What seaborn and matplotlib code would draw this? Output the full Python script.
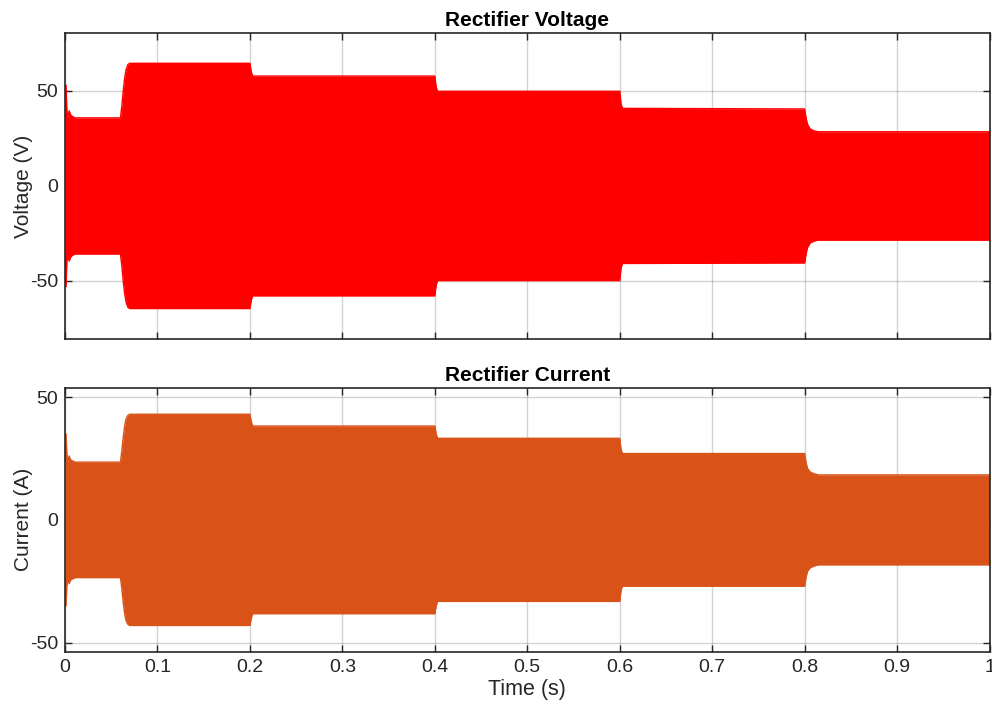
import matplotlib
matplotlib.use('Agg')  # Non-interactive backend
import matplotlib.pyplot as plt
import seaborn as sns
import numpy as np

# Envelope breakpoints (time in s, peak amplitude)
v_time = [0.0, 0.0012, 0.002, 0.003, 0.0045, 0.006, 0.008, 0.011, 0.06, 0.0615, 0.063,
          0.0645, 0.066, 0.068, 0.07, 0.2, 0.2015, 0.203, 0.4, 0.4015, 0.403, 0.6, 0.6015,
          0.603, 0.8, 0.8015, 0.803, 0.806, 0.81, 0.815, 1.0]
v_upper = [36.0, 53.0, 40.0, 36.0, 39.5, 37.5, 36.5, 35.8, 35.8, 42.0, 50.0,
           56.5, 61.0, 63.8, 64.5, 64.5, 60.0, 57.8, 57.8, 52.0, 49.8, 49.8, 43.0,
           40.8, 40.5, 36.0, 32.5, 30.0, 29.0, 28.5, 28.5]
v_lower = [-36.0, -53.0, -40.0, -36.0, -39.5, -37.5, -36.5, -35.8, -35.8, -42.0, -50.0,
           -56.5, -61.0, -63.8, -64.5, -64.5, -60.0, -57.8, -57.8, -52.0, -49.8, -49.8, -43.0,
           -40.8, -40.5, -36.0, -32.5, -30.0, -29.0, -28.5, -28.5]

i_time = v_time
i_upper = [23.5, 35.0, 27.0, 23.5, 26.0, 24.5, 24.0, 23.5, 23.5, 28.0, 33.5,
           38.0, 41.0, 42.5, 43.0, 43.0, 40.0, 38.2, 38.2, 35.0, 33.2, 33.2, 28.5,
           27.0, 27.0, 23.5, 21.0, 19.5, 18.8, 18.3, 18.3]
i_lower = [-23.5, -35.0, -27.0, -23.5, -26.0, -24.5, -24.0, -23.5, -23.5, -28.0, -33.5,
           -38.0, -41.0, -42.5, -43.0, -43.0, -40.0, -38.2, -38.2, -35.0, -33.2, -33.2, -28.5,
           -27.0, -27.0, -23.5, -21.0, -19.5, -18.8, -18.3, -18.3]

x_ticks = [0, 0.1, 0.2, 0.3, 0.4, 0.5, 0.6, 0.7, 0.8, 0.9, 1]
x_ticklabels = ['0', '0.1', '0.2', '0.3', '0.4', '0.5', '0.6', '0.7', '0.8', '0.9', '1']

sns.set_theme(style="whitegrid")
plt.rcParams['font.family'] = ['Liberation Sans', 'DejaVu Sans']
plt.rcParams['axes.unicode_minus'] = False

fig = plt.figure(figsize=(9.92, 7.11), dpi=100)
ax1 = fig.add_axes([0.0655, 0.523, 0.932, 0.431])
ax2 = fig.add_axes([0.0655, 0.083, 0.932, 0.3717])

panels = [
    (ax1, v_time, v_upper, v_lower, '#FF0000', 'Rectifier Voltage', 'Voltage (V)', 80.6, [-50, 0, 50]),
    (ax2, i_time, i_upper, i_lower, '#D95319', 'Rectifier Current', 'Current (A)', 53.8, [-50, 0, 50]),
]

for ax, t, up, lo, color, title, ylabel, ylim, yticks in panels:
    ax.fill_between(t, lo, up, color=color, linewidth=0, zorder=2)
    sns.lineplot(x=t, y=up, ax=ax, color=color, linewidth=1, zorder=2)
    sns.lineplot(x=t, y=lo, ax=ax, color=color, linewidth=1, zorder=2)
    ax.set_xlim(0, 1)
    ax.set_ylim(-ylim, ylim)
    ax.set_xticks(x_ticks)
    ax.set_yticks(yticks)
    ax.set_title(title, fontsize=15, fontweight='bold', color='black', pad=5)
    ax.set_ylabel(ylabel, fontsize=15, color='#262626', labelpad=-2)
    ax.set_axisbelow(True)
    ax.grid(True, color='#262626', alpha=0.2, linewidth=1)
    ax.set_facecolor('white')
    for s in ax.spines.values():
        s.set_color('#262626')
        s.set_linewidth(1.2)
        s.set_zorder(3)
    ax.tick_params(direction='in', length=5, width=1, color='#262626', labelcolor='#262626',
                   labelsize=14, top=True, right=True, left=True, bottom=True, pad=5)

ax1.set_xticklabels([])
ax2.set_xticklabels(x_ticklabels)
ax2.set_xlabel('Time (s)', fontsize=15.5, color='#262626', labelpad=2)

fig.savefig('out.png', dpi=100)
plt.close(fig)
